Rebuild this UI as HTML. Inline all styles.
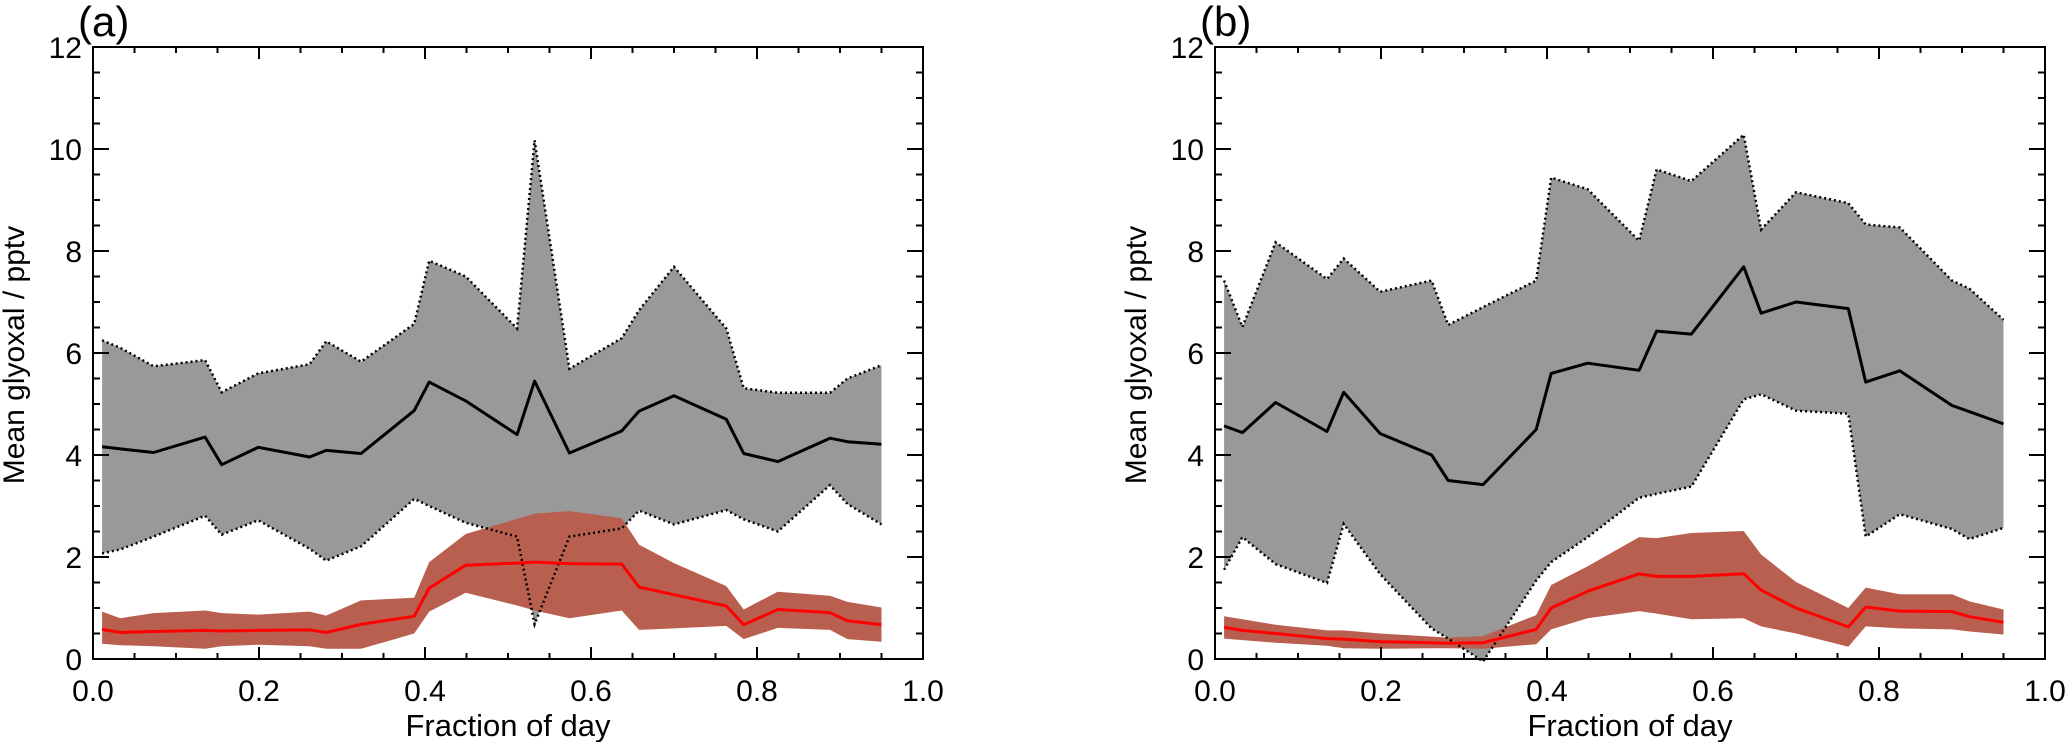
<!DOCTYPE html>
<html><head><meta charset="utf-8">
<style>
html,body{margin:0;padding:0;background:#fff;}
svg{display:block;font-family:"Liberation Sans",Arial,sans-serif;}
</style></head>
<body>
<svg id="chart" width="2067" height="742" viewBox="0 0 2067 742" xmlns="http://www.w3.org/2000/svg"></svg>
<script>
const fracDay = [0.011,0.033,0.073,0.135,0.155,0.199,0.261,0.281,0.323,0.387,0.405,0.449,0.511,0.532,0.574,0.637,0.658,0.700,0.763,0.784,0.825,0.888,0.909,0.950];
const xTicks = [0.0,0.2,0.4,0.6,0.8,1.0];
const xTickLabels = ["0.0","0.2","0.4","0.6","0.8","1.0"];
const yTicks = [0,2,4,6,8,10,12];
const yTickLabels = ["0","2","4","6","8","10","12"];

const aMean  = [4.16,4.12,4.05,4.35,3.81,4.15,3.96,4.09,4.03,4.87,5.43,5.06,4.40,5.45,4.04,4.47,4.86,5.16,4.70,4.03,3.87,4.33,4.26,4.21];
const aUpper = [6.25,6.10,5.74,5.86,5.23,5.60,5.78,6.23,5.83,6.57,7.81,7.50,6.48,10.17,5.69,6.29,6.84,7.69,6.48,5.31,5.22,5.22,5.50,5.76];
const aLower = [2.07,2.15,2.40,2.81,2.44,2.72,2.16,1.93,2.21,3.14,3.00,2.67,2.40,0.68,2.40,2.56,2.91,2.64,2.92,2.74,2.50,3.41,3.04,2.64];
const aRedMean  = [0.58,0.52,0.54,0.56,0.55,0.56,0.57,0.52,0.68,0.84,1.39,1.84,1.88,1.90,1.87,1.86,1.41,1.26,1.04,0.67,0.97,0.91,0.75,0.67];
const aRedUpper = [0.93,0.80,0.90,0.95,0.90,0.87,0.93,0.85,1.15,1.20,1.90,2.45,2.75,2.85,2.90,2.76,2.24,1.88,1.43,0.97,1.32,1.24,1.12,1.01];
const aRedLower = [0.30,0.27,0.25,0.20,0.25,0.28,0.25,0.20,0.20,0.50,0.93,1.30,1.05,0.95,0.80,0.95,0.57,0.60,0.65,0.39,0.61,0.57,0.39,0.34];

const bMean  = [4.57,4.44,5.03,4.46,5.23,4.42,4.00,3.50,3.42,4.50,5.60,5.80,5.66,6.43,6.37,7.69,6.78,7.00,6.87,5.43,5.65,4.97,4.85,4.61];
const bUpper = [7.42,6.51,8.17,7.45,7.85,7.20,7.42,6.55,6.90,7.42,9.44,9.21,8.20,9.60,9.37,10.28,8.42,9.15,8.94,8.52,8.46,7.42,7.26,6.65];
const bLower = [1.75,2.39,1.86,1.49,2.65,1.66,0.60,0.40,-0.05,1.54,1.90,2.39,3.16,3.24,3.38,5.09,5.19,4.87,4.81,2.40,2.84,2.55,2.35,2.57];
const bRedMean  = [0.62,0.56,0.50,0.40,0.39,0.34,0.32,0.31,0.32,0.58,1.00,1.33,1.67,1.62,1.62,1.67,1.35,1.00,0.63,1.02,0.94,0.93,0.83,0.72];
const bRedUpper = [0.84,0.78,0.67,0.56,0.56,0.50,0.44,0.42,0.45,0.86,1.45,1.82,2.39,2.37,2.47,2.51,2.05,1.51,1.00,1.40,1.27,1.27,1.13,0.97];
const bRedLower = [0.40,0.37,0.32,0.26,0.21,0.20,0.21,0.21,0.20,0.29,0.58,0.80,0.94,0.89,0.78,0.80,0.64,0.50,0.24,0.64,0.60,0.58,0.54,0.48];

const NS = "http://www.w3.org/2000/svg";
const svg = document.getElementById('chart');
function mk(tag, attrs, parent){
  const e = document.createElementNS(NS, tag);
  for (const k in attrs) e.setAttribute(k, attrs[k]);
  (parent||svg).appendChild(e);
  return e;
}

function panel(left, letter, mean, upper, lower, rMean, rUpper, rLower){
  const top = 47, bottom = 659, width = 830;
  const sx = f => left + f*width;
  const sy = v => bottom - (v/12)*(bottom-top);
  const g = mk('g', {});
  
  
  const pts = (xs, ys) => xs.map((x,i)=>sx(x).toFixed(1)+','+sy(ys[i]).toFixed(1));
  const bandPath = (up, lo) => 'M' + pts(fracDay, up).join(' L') + ' L' + pts(fracDay, lo).reverse().join(' L') + ' Z';

  const gb = mk('path', {d: bandPath(upper, lower), fill:'#999999', stroke:'none'}, g);
  
  
  const rb = mk('path', {d: bandPath(rUpper, rLower), fill:'#b95f4f', stroke:'none'}, g);
  
  
  const du = mk('polyline', {points: pts(fracDay, upper).join(' '), fill:'none', stroke:'#000', 'stroke-width':2.5, 'stroke-dasharray':'2 3'}, g);
  
  
  const dl = mk('polyline', {points: pts(fracDay, lower).join(' '), fill:'none', stroke:'#000', 'stroke-width':2.5, 'stroke-dasharray':'2 3'}, g);
  
  
  const ml = mk('polyline', {points: pts(fracDay, mean).join(' '), fill:'none', stroke:'#000', 'stroke-width':3, 'stroke-linejoin':'round'}, g);
  
  
  const rl = mk('polyline', {points: pts(fracDay, rMean).join(' '), fill:'none', stroke:'#ff0000', 'stroke-width':3, 'stroke-linejoin':'round'}, g);
  
  

  // frame
  const fr = mk('rect', {x:left, y:top, width:width, height:bottom-top, fill:'none', stroke:'#000', 'stroke-width':2}, g);
  
  

  // x ticks
  for (let k=0; k<=20; k++){
    const f = k*0.05, X = sx(f);
    const len = (k%4===0) ? 12 : 6;
    mk('line', {x1:X, y1:bottom, x2:X, y2:bottom-len, stroke:'#000', 'stroke-width':2}, g);
    mk('line', {x1:X, y1:top, x2:X, y2:top+len, stroke:'#000', 'stroke-width':2}, g);
  }
  xTicks.forEach((t,i)=>{
    const tx = mk('text', {x:sx(t), y:701, 'font-size':30, 'text-anchor':'middle', fill:'#000'}, g);
    tx.textContent = xTickLabels[i];
    
    
  });
  // y ticks
  for (let k=0; k<=24; k++){
    const v = k*0.5, Y = sy(v);
    const len = (k%4===0) ? 16 : 7;
    mk('line', {x1:left, y1:Y, x2:left+len, y2:Y, stroke:'#000', 'stroke-width':2}, g);
    mk('line', {x1:left+width, y1:Y, x2:left+width-len, y2:Y, stroke:'#000', 'stroke-width':2}, g);
  }
  yTicks.forEach((t,i)=>{
    const ty = mk('text', {x:left-11, y:sy(t)+11, 'font-size':30, 'text-anchor':'end', fill:'#000'}, g);
    ty.textContent = yTickLabels[i];
    
    
  });
  const xt = mk('text', {x:left+width/2, y:736, 'font-size':31, 'text-anchor':'middle', fill:'#000'}, g);
  xt.textContent = 'Fraction of day';
  
  
  const yt = mk('text', {x:0, y:0, 'font-size':30, 'text-anchor':'middle', fill:'#000', transform:'translate('+(left-69)+',355) rotate(-90)'}, g);
  yt.textContent = 'Mean glyoxal / pptv';
  
  
  const pl = mk('text', {x:left-15, y:36, 'font-size':42, fill:'#000'}, g);
  pl.textContent = '(' + letter + ')';
  
  
}

panel(93, 'a', aMean, aUpper, aLower, aRedMean, aRedUpper, aRedLower);
panel(1215, 'b', bMean, bUpper, bLower, bRedMean, bRedUpper, bRedLower);
</script>
</body></html>
